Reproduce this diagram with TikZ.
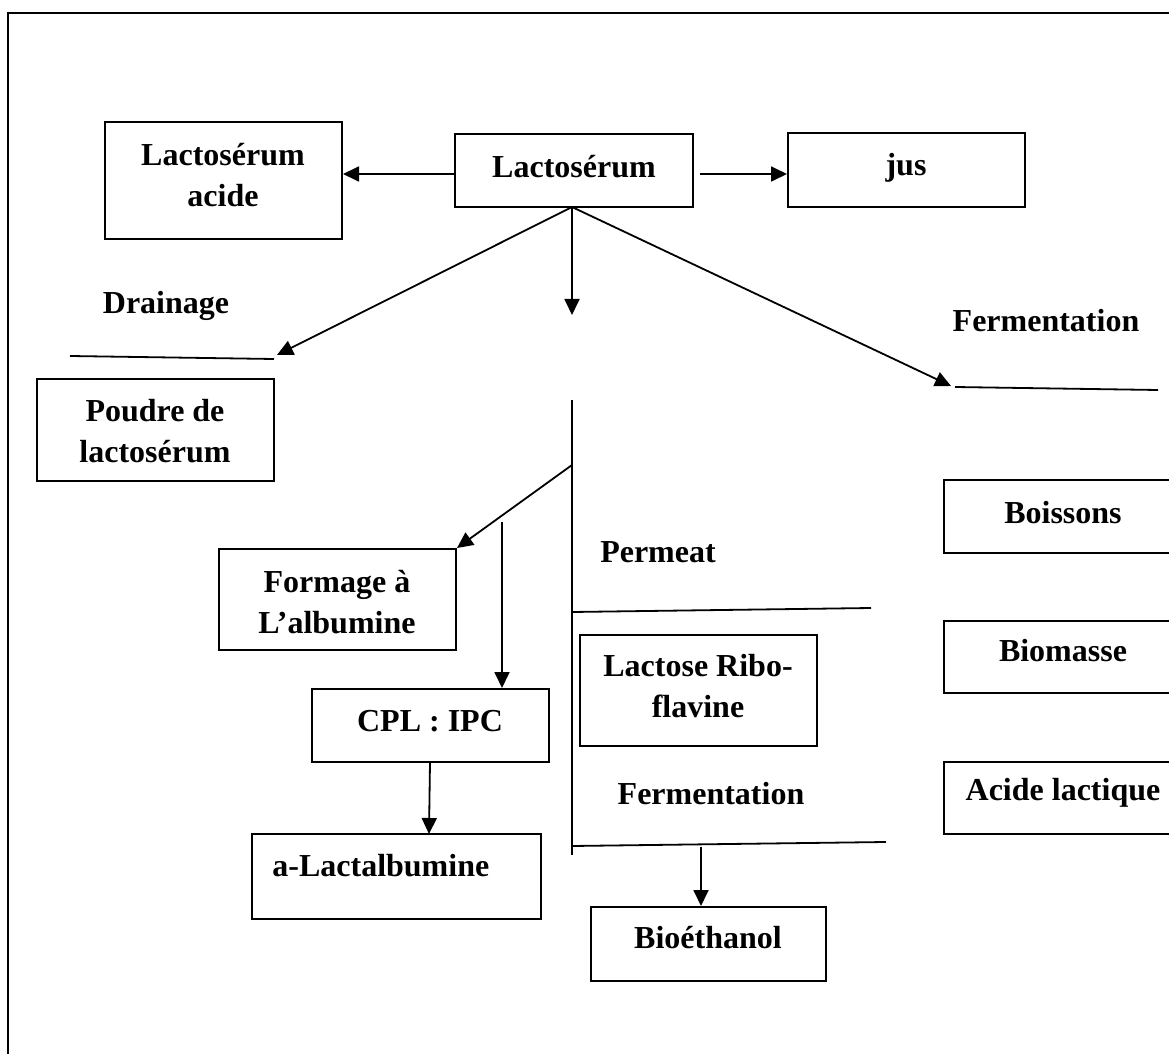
\documentclass[tikz,border=0pt]{standalone}
\usepackage{fontspec}
\setmainfont{Liberation Serif}
\usetikzlibrary{arrows.meta,fit}
\begin{document}
\begin{tikzpicture}[x={(0.5pt,0)}, y={(0,-0.5pt)},
  box/.style={draw, line width=1pt, inner sep=0pt},
  txt/.style={font=\bfseries\fontsize{16}{20.5}\selectfont, align=center, inner sep=0pt},
  conn/.style={line width=0.9pt},
  arr/.style={line width=0.9pt, -{Triangle[length=8pt,width=7.5pt]}}]
\useasboundingbox (0,0) rectangle (1169,1054);
\clip (0,0) rectangle (1169,1054);
% outer frame
\draw[line width=0.9pt] (8,13) rectangle (1220,1120);
% boxes
\node[box, fit={(105,122) (342,239)}] (acide) {};
\node[box, fit={(455,134) (693,207)}] (lacto) {};
\node[box, fit={(788,133) (1025,207)}] (jus) {};
\node[box, fit={(37,379) (274,481)}] (poudre) {};
\node[box, fit={(219,549) (456,650)}] (formage) {};
\node[box, fit={(312,689) (549,762)}] (cpl) {};
\node[box, fit={(252,834) (541,919)}] (alact) {};
\node[box, fit={(580,635) (817,746)}] (ribo) {};
\node[box, fit={(591,907) (826,981)}] (bioeth) {};
\node[box, fit={(944,480) (1182,553)}] (boissons) {};
\node[box, fit={(944,621) (1182,693)}] (biomasse) {};
\node[box, fit={(944,762) (1182,834)}] (acidelac) {};
% texts
\node[txt] (tacide) at (223,175) {Lactosérum\\acide};
\node[txt] (tlacto) at (574,167) {Lactosérum};
\node[txt] (tjus) at (906,168) {jus};
\node[txt] (tdrain) at (166,306) {Drainage};
\node[txt] (tferm1) at (1046,321) {Fermentation};
\node[txt] (tpoudre) at (155,431) {Poudre de\\lactosérum};
\node[txt] (tformage) at (337,602) {Formage à\\L’albumine};
\node[txt] (tcpl) at (430,721) {CPL : IPC};
\node[txt] (tperm) at (658,552) {Permeat};
\node[txt] (tribo) at (698,686) {Lactose Ribo-\\flavine};
\node[txt] (tferm2) at (711,794) {Fermentation};
\node[txt, anchor=west] (talact) at (272,866) {a-Lactalbumine};
\node[txt] (tbioeth) at (708,938) {Bioéthanol};
\node[txt] (tboissons) at (1063,513) {Boissons};
\node[txt] (tbiomasse) at (1063,651) {Biomasse};
\node[txt] (tacidelac) at (1063,793) {Acide lactique};
% coordinates
\coordinate (src) at (572,207);
\coordinate (downtip) at (572,315);
\coordinate (draintip) at (277,355);
\coordinate (dl1) at (70,356);
\coordinate (dl2) at (274,359);
\coordinate (fermtip) at (951,386);
\coordinate (fl1) at (955,387);
\coordinate (fl2) at (1158,390);
\coordinate (vtop) at (572,400);
\coordinate (vbot) at (572,855);
\coordinate (vbranch) at (572,465);
\coordinate (cplstart) at (502,522);
\coordinate (cplbot) at (430,762);
\coordinate (alacttop) at (429,834);
\coordinate (pl1) at (572,612);
\coordinate (pl2) at (871,608);
\coordinate (ll1) at (572,846);
\coordinate (ll2) at (886,842);
\coordinate (biostart) at (701,847);
\coordinate (jusstart) at (700,174);
\coordinate (acstart) at (455,174);
% connectors
\draw[arr] (acstart) -- (acstart -| acide.east);
\draw[arr] (jusstart) -- (jusstart -| jus.west);
\draw[arr] (src) -- (downtip);
\draw[arr] (src) -- (draintip);
\draw[conn] (dl1) -- (dl2);
\draw[arr] (src) -- (fermtip);
\draw[conn] (fl1) -- (fl2);
\draw[conn] (vtop) -- (vbot);
\draw[arr] (vbranch) -- (formage.north east);
\draw[arr] (cplstart) -- (cplstart |- cpl.north);
\draw[arr] (cplbot) -- (alacttop);
\draw[conn] (pl1) -- (pl2);
\draw[conn] (ll1) -- (ll2);
\draw[arr] (biostart) -- (biostart |- bioeth.north);
\end{tikzpicture}
\end{document}
